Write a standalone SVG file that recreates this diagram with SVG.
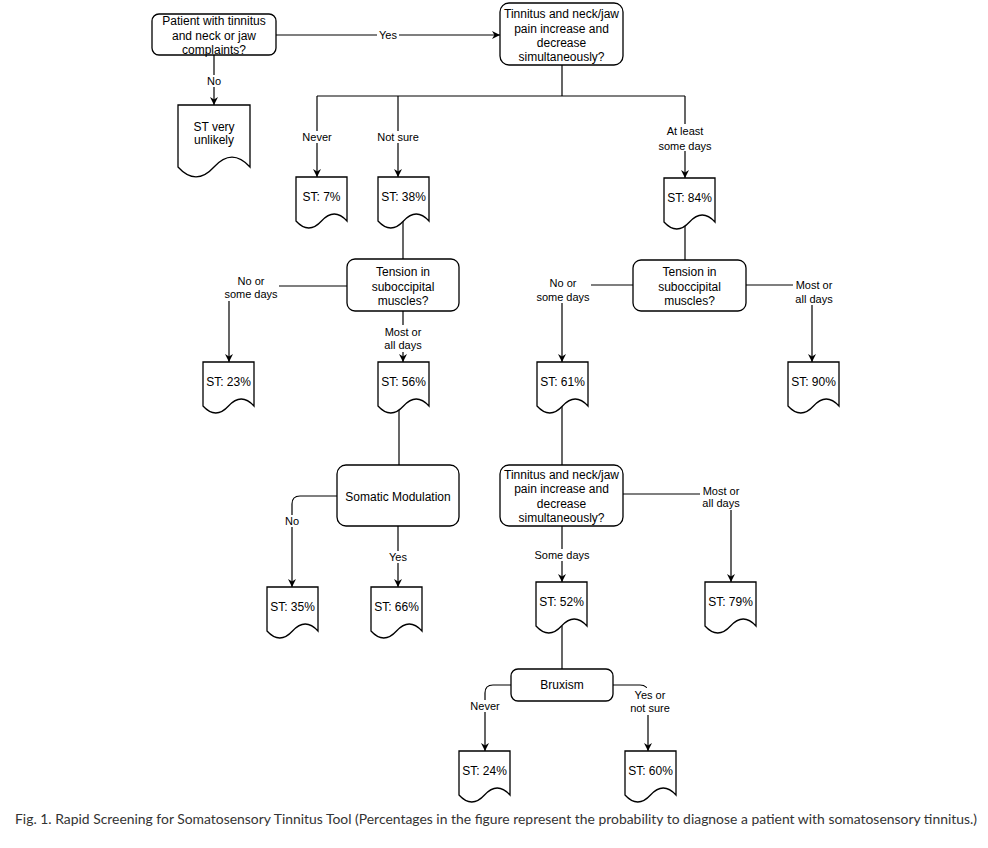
<svg xmlns="http://www.w3.org/2000/svg" width="988" height="848" viewBox="0 0 988 848">
<style>
.box{fill:#fff;stroke:#000;stroke-width:1.3}
.doc{fill:#fff;stroke:#000;stroke-width:1.3}
.e{fill:none;stroke:#000;stroke-width:1.2}
.t{font-family:"Liberation Sans",Arial,sans-serif;font-size:12px;fill:#000;text-anchor:middle}
.l{font-family:"Liberation Sans",Arial,sans-serif;font-size:11px;fill:#000;text-anchor:middle}
.bg{fill:#fff;stroke:none}
.cap{font-family:"Lato","Open Sans",sans-serif;font-size:13px;fill:#333}
</style>
<defs>
<marker id="arr" viewBox="0 0 10 10" refX="10" refY="5" markerWidth="8" markerHeight="8" markerUnits="userSpaceOnUse" orient="auto">
<path d="M0,0 L10,5 L0,10 L3,5 z" fill="#000"/>
</marker>
<path id="docshape" d="M0,0 H51 V44 Q38.25,30 25.5,44 Q12.75,58 0,44 Z"/>
</defs>
<rect width="988" height="848" fill="#fff"/>

<g id="connectors">
<path class="e" d="M276,35 H500" marker-end="url(#arr)"/>
<path class="e" d="M214,55 V105" marker-end="url(#arr)"/>
<path class="e" d="M562,65 V96 M317,96 H685"/>
<path class="e" d="M317,96 V177" marker-end="url(#arr)"/>
<path class="e" d="M398,96 V177" marker-end="url(#arr)"/>
<path class="e" d="M685,96 V178" marker-end="url(#arr)"/>
<path class="e" d="M403,221 V259"/>
<path class="e" d="M347,286 H229 V362" marker-end="url(#arr)"/>
<path class="e" d="M403,311 V362" marker-end="url(#arr)"/>
<path class="e" d="M399,406 V465"/>
<path class="e" d="M337,496 H300 Q292,496 292,504 V587" marker-end="url(#arr)"/>
<path class="e" d="M398,526 V587" marker-end="url(#arr)"/>
<path class="e" d="M685,222 V260"/>
<path class="e" d="M633,285 H562 V362" marker-end="url(#arr)"/>
<path class="e" d="M746,285 H812 V362" marker-end="url(#arr)"/>
<path class="e" d="M562,406 V465"/>
<path class="e" d="M623,494 H731 V582" marker-end="url(#arr)"/>
<path class="e" d="M562,526 V582" marker-end="url(#arr)"/>
<path class="e" d="M562,626 V669"/>
<path class="e" d="M511,685 H493 Q485,685 485,693 V751" marker-end="url(#arr)"/>
<path class="e" d="M613,685 H640 Q648,685 648,693 V751" marker-end="url(#arr)"/>
<g id="edge-labels">
<rect class="bg" x="377" y="29" width="22" height="12"/><text class="l" x="388" y="39">Yes</text>
<rect class="bg" x="205" y="75" width="18" height="12"/><text class="l" x="214" y="85">No</text>
<rect class="bg" x="300" y="131" width="34" height="12"/><text class="l" x="317" y="141">Never</text>
<rect class="bg" x="375" y="131" width="46" height="12"/><text class="l" x="398" y="141">Not sure</text>
<rect class="bg" x="656" y="124" width="58" height="27"/><text class="l" x="685" y="135">At least</text><text class="l" x="685" y="150">some days</text>
<rect class="bg" x="223" y="274" width="56" height="27"/><text class="l" x="251" y="285">No or</text><text class="l" x="251" y="298">some days</text>
<rect class="bg" x="381" y="325" width="44" height="27"/><text class="l" x="403" y="336">Most or</text><text class="l" x="403" y="349">all days</text>
<rect class="bg" x="283" y="515" width="18" height="12"/><text class="l" x="292" y="525">No</text>
<rect class="bg" x="387" y="551" width="22" height="12"/><text class="l" x="398" y="561">Yes</text>
<rect class="bg" x="535" y="276" width="56" height="27"/><text class="l" x="563" y="287">No or</text><text class="l" x="563" y="301">some days</text>
<rect class="bg" x="793" y="278" width="42" height="27"/><text class="l" x="814" y="289">Most or</text><text class="l" x="814" y="303">all days</text>
<rect class="bg" x="700" y="484" width="42" height="26"/><text class="l" x="721" y="495">Most or</text><text class="l" x="721" y="507">all days</text>
<rect class="bg" x="533" y="549" width="58" height="12"/><text class="l" x="562" y="559">Some days</text>
<rect class="bg" x="468" y="700" width="34" height="12"/><text class="l" x="485" y="710">Never</text>
<rect class="bg" x="625" y="688" width="50" height="27"/><text class="l" x="650" y="699">Yes or</text><text class="l" x="650" y="712">not sure</text>
</g>
</g>

<g id="n-start"><rect class="box" x="152" y="14" width="124" height="41" rx="7"/>
<text class="t" x="214" y="25">Patient with tinnitus</text><text class="t" x="214" y="40">and neck or jaw</text><text class="t" x="214" y="54">complaints?</text></g>
<g id="n-q1"><rect class="box" x="500" y="3" width="123" height="62" rx="9"/>
<text class="t" x="561.5" y="18">Tinnitus and neck/jaw</text><text class="t" x="561.5" y="32.5">pain increase and</text><text class="t" x="561.5" y="47">decrease</text><text class="t" x="561.5" y="61">simultaneously?</text></g>
<g id="n-unlikely"><path class="doc" d="M178,105 H250 V167 Q232,147.3 214,167 Q196,186.8 178,167 Z"/>
<text class="t" x="214" y="130.5">ST very</text><text class="t" x="214" y="144">unlikely</text></g>
<g id="n-7"><use href="#docshape" class="doc" x="296" y="177"/><text class="t" x="321.5" y="201">ST: 7%</text></g>
<g id="n-38"><use href="#docshape" class="doc" x="378" y="177"/><text class="t" x="403.5" y="201">ST: 38%</text></g>
<g id="n-84"><use href="#docshape" class="doc" x="664" y="178"/><text class="t" x="689.5" y="202">ST: 84%</text></g>
<g id="n-tension1"><rect class="box" x="347" y="259" width="112" height="52" rx="8"/>
<text class="t" x="403" y="276">Tension in</text><text class="t" x="403" y="291">suboccipital</text><text class="t" x="403" y="304.5">muscles?</text></g>
<g id="n-tension2"><rect class="box" x="633" y="260" width="113" height="51" rx="8"/>
<text class="t" x="689.5" y="276">Tension in</text><text class="t" x="689.5" y="291">suboccipital</text><text class="t" x="689.5" y="304.5">muscles?</text></g>
<g id="n-23"><use href="#docshape" class="doc" x="203" y="362"/><text class="t" x="228.5" y="386">ST: 23%</text></g>
<g id="n-56"><use href="#docshape" class="doc" x="378" y="362"/><text class="t" x="403.5" y="386">ST: 56%</text></g>
<g id="n-61"><use href="#docshape" class="doc" x="537" y="362"/><text class="t" x="562.5" y="386">ST: 61%</text></g>
<g id="n-90"><use href="#docshape" class="doc" x="788" y="362"/><text class="t" x="813.5" y="386">ST: 90%</text></g>
<g id="n-somatic"><rect class="box" x="337" y="465" width="122" height="61" rx="9"/>
<text class="t" x="398" y="501">Somatic Modulation</text></g>
<g id="n-q2"><rect class="box" x="500" y="465" width="123" height="61" rx="9"/>
<text class="t" x="561.5" y="479">Tinnitus and neck/jaw</text><text class="t" x="561.5" y="493">pain increase and</text><text class="t" x="561.5" y="508">decrease</text><text class="t" x="561.5" y="522">simultaneously?</text></g>
<g id="n-35"><use href="#docshape" class="doc" x="267" y="587"/><text class="t" x="292.5" y="611">ST: 35%</text></g>
<g id="n-66"><use href="#docshape" class="doc" x="371" y="587"/><text class="t" x="396.5" y="611">ST: 66%</text></g>
<g id="n-52"><use href="#docshape" class="doc" x="536" y="582"/><text class="t" x="561.5" y="606">ST: 52%</text></g>
<g id="n-79"><use href="#docshape" class="doc" x="705" y="582"/><text class="t" x="730.5" y="606">ST: 79%</text></g>
<g id="n-bruxism"><rect class="box" x="511" y="669" width="102" height="32" rx="7"/>
<text class="t" x="562" y="689">Bruxism</text></g>
<g id="n-24"><use href="#docshape" class="doc" x="459" y="751"/><text class="t" x="484.5" y="775">ST: 24%</text></g>
<g id="n-60"><use href="#docshape" class="doc" x="625" y="751"/><text class="t" x="650.5" y="775">ST: 60%</text></g>

<text class="cap" x="15" y="824" textLength="962" lengthAdjust="spacingAndGlyphs">Fig. 1. Rapid Screening for Somatosensory Tinnitus Tool (Percentages in the figure represent the probability to diagnose a patient with somatosensory tinnitus.)</text>
</svg>
